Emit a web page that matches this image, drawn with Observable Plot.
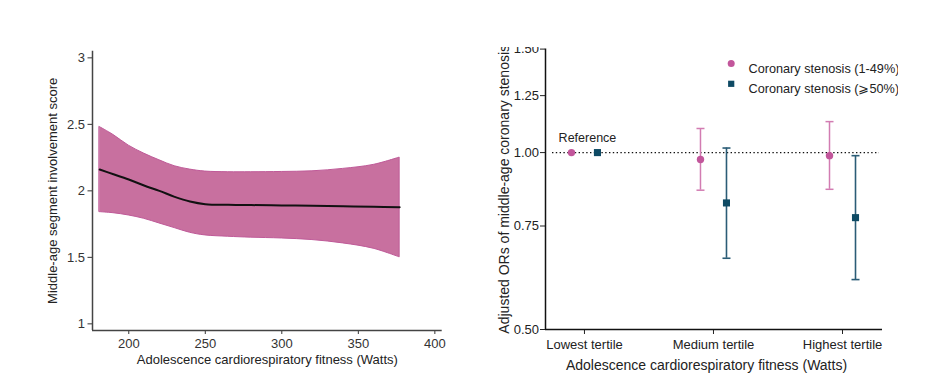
<!DOCTYPE html>
<html>
<head>
<meta charset="utf-8">
<script src="https://cdn.jsdelivr.net/npm/d3@7"></script>
<script src="https://cdn.jsdelivr.net/npm/@observablehq/plot@0.6"></script>
<style>
  body { margin: 0; background: #fff; }
  #wrap { position: relative; width: 936px; height: 388px; overflow: hidden; background: #fff; }
  #left { position: absolute; left: 0; top: 0; }
  #right { position: absolute; left: 468px; top: 47px; width: 430px; height: 341px; overflow: hidden; }
</style>
</head>
<body>
<div id="wrap"><div id="left"></div><div id="right"></div></div>
<script>
// ---------- Left panel data ----------
const fitness = [181, 190, 200, 210, 220, 230, 240, 250, 265, 280, 300, 320, 340, 360, 377];
const fitScore = [2.16, 2.125, 2.085, 2.04, 2.0, 1.955, 1.92, 1.90, 1.895, 1.893, 1.89, 1.888, 1.884, 1.88, 1.876];
const upperCI = [2.48, 2.42, 2.34, 2.28, 2.23, 2.185, 2.16, 2.145, 2.14, 2.14, 2.142, 2.147, 2.165, 2.195, 2.25];
const lowerCI = [1.84, 1.832, 1.815, 1.79, 1.755, 1.72, 1.685, 1.665, 1.655, 1.648, 1.642, 1.63, 1.605, 1.565, 1.50];
const leftXTicks = [200, 250, 300, 350, 400];
const leftYTicks = [1, 1.5, 2, 2.5, 3];
const leftXDomain = [176.3, 404.8];
const leftYDomain = [0.95, 3.05];
const leftYTitle = "Middle-age segment involvement score";
const xTitle = "Adolescence cardiorespiratory fitness (Watts)";

// ---------- Right panel data ----------
const tertiles = ["Lowest tertile", "Medium tertile", "Highest tertile"];
const orMild = [1, 0.973, 0.988];
const loMild = [null, 0.863, 0.866];
const hiMild = [null, 1.099, 1.129];
const orSevere = [1, 0.821, 0.775];
const loSevere = [null, 0.661, 0.608];
const hiSevere = [null, 1.018, 0.988];
const rightYTicks = [0.5, 0.75, 1, 1.25, 1.5];
const rightYTitle = "Adjusted ORs of middle-age coronary stenosis";
const seriesNames = ["Coronary stenosis (1-49%)", "Coronary stenosis (\u2A7E50%)"];
const refLabel = "Reference";

const pinkDot = "#c2569b", pinkBar = "#d27cb2";
const tealDot = "#0e4a64", tealBar = "#2b5c76";
const font = "'Liberation Sans', Arial, sans-serif";

// ---------- Left chart ----------
const band = fitness.map((x, i) => ({x, fit: fitScore[i], lo: lowerCI[i], hi: upperCI[i]}));
const left = Plot.plot({
  width: 468, height: 388,
  marginLeft: 92, marginRight: 26.3, marginTop: 50.7, marginBottom: 58,
  style: {fontFamily: font, fontSize: "13px", color: "#333", background: "#fff"},
  x: {domain: leftXDomain, ticks: leftXTicks, tickSize: 4, tickPadding: 4, label: null},
  y: {domain: leftYDomain, ticks: leftYTicks, tickSize: 4.5, tickPadding: 3, label: null, tickFormat: d => String(d)},
  marks: [
    Plot.areaY(band, {x: "x", y1: "lo", y2: "hi", fill: "#c8709f", stroke: "#bf5a98", strokeWidth: 1, curve: "catmull-rom"}),
    Plot.lineY(band, {x: "x", y: "fit", stroke: "#111", strokeWidth: 2, curve: "catmull-rom"}),
    Plot.ruleX([leftXDomain[0]], {stroke: "#444", strokeWidth: 1.5}),
    Plot.ruleY([leftYDomain[0]], {stroke: "#444", strokeWidth: 1.5}),
    Plot.text([leftYTitle], {text: d => d, frameAnchor: "left", textAnchor: "middle", rotate: -90, dx: -40, fontSize: 13, fill: "#222"}),
    Plot.text([xTitle], {text: d => d, frameAnchor: "bottom", textAnchor: "middle", dy: 33, fontSize: 13, fill: "#222"})
  ]
});
document.getElementById("left").appendChild(left);

// ---------- Right chart ----------
const rows = tertiles.flatMap((t, i) => [
  {i, t, s: 0, or: orMild[i], lo: loMild[i], hi: hiMild[i]},
  {i, t, s: 1, or: orSevere[i], lo: loSevere[i], hi: hiSevere[i]}
]);
const mild = rows.filter(d => d.s === 0);
const severe = rows.filter(d => d.s === 1);
const mildCI = mild.filter(d => d.lo != null);
const severeCI = severe.filter(d => d.lo != null);
const capSymbol = {draw(context, size) { const r = Math.sqrt(size / Math.PI); context.moveTo(-r, 0); context.lineTo(r, 0); }};
const off = 13;

const right = Plot.plot({
  width: 430, height: 341,
  marginLeft: 77, marginRight: 16, marginTop: 1.6, marginBottom: 59,
  style: {fontFamily: font, fontSize: "13px", color: "#222", background: "#fff"},
  x: {domain: [-0.302, 2.31], ticks: [0, 1, 2], tickFormat: i => tertiles[i], tickSize: 5, tickPadding: 5, label: null},
  y: {type: "log", domain: [0.5, 1.5], ticks: rightYTicks, tickFormat: d => d.toFixed(2), tickSize: 5, tickPadding: 1.5, label: null},
  marks: [
    Plot.ruleY([1], {stroke: "#111", strokeWidth: 1.4, strokeDasharray: "1.4,2.4", insetLeft: 7, insetRight: 3}),
    Plot.ruleX(mildCI, {x: "i", y1: "lo", y2: "hi", dx: -off, stroke: pinkBar, strokeWidth: 1.5}),
    Plot.dot(mildCI, {x: "i", y: "lo", dx: -off, symbol: capSymbol, r: 4, fill: "none", stroke: pinkBar, strokeWidth: 1.5}),
    Plot.dot(mildCI, {x: "i", y: "hi", dx: -off, symbol: capSymbol, r: 4, fill: "none", stroke: pinkBar, strokeWidth: 1.5}),
    Plot.ruleX(severeCI, {x: "i", y1: "lo", y2: "hi", dx: off, stroke: tealBar, strokeWidth: 1.6}),
    Plot.dot(severeCI, {x: "i", y: "lo", dx: off, symbol: capSymbol, r: 4, fill: "none", stroke: tealBar, strokeWidth: 1.6}),
    Plot.dot(severeCI, {x: "i", y: "hi", dx: off, symbol: capSymbol, r: 4, fill: "none", stroke: tealBar, strokeWidth: 1.6}),
    Plot.dot(mild, {x: "i", y: "or", dx: -off, symbol: "circle", r: 3.7, fill: pinkDot}),
    Plot.dot(severe, {x: "i", y: "or", dx: off, symbol: "square", r: 4, fill: tealDot}),
    Plot.text(rows.filter(d => d.i === 0 && d.s === 0), {x: "i", y: "or", text: () => refLabel, dy: -15, dx: 3, fontSize: 12.5, fill: "#222"}),
    Plot.ruleX([-0.302], {stroke: "#111", strokeWidth: 1.5}),
    Plot.ruleY([0.5], {stroke: "#111", strokeWidth: 1.5}),
    // legend
    Plot.dot([seriesNames[0]], {frameAnchor: "top-left", dx: 185.7, dy: 14.4, symbol: "circle", r: 3.5, fill: pinkDot}),
    Plot.text([seriesNames[0]], {text: d => d, frameAnchor: "top-left", dx: 203, dy: 14.4, textAnchor: "start", fontSize: 12.7, fill: "#222"}),
    Plot.dot([seriesNames[1]], {frameAnchor: "top-left", dx: 185.7, dy: 34.7, symbol: "square", r: 3.5, fill: tealDot}),
    Plot.text([seriesNames[1]], {text: d => d, frameAnchor: "top-left", dx: 203, dy: 34.7, textAnchor: "start", fontSize: 12.7, fill: "#222"}),
    // titles
    Plot.text([rightYTitle], {text: d => d, frameAnchor: "left", textAnchor: "middle", rotate: -90, dx: -41, dy: 0, fontSize: 14, fill: "#222"}),
    Plot.text([xTitle], {text: d => d, frameAnchor: "bottom", textAnchor: "middle", dx: -7.5, dy: 40, fontSize: 14, fill: "#222"})
  ]
});
document.getElementById("right").appendChild(right);
</script>
</body>
</html>
